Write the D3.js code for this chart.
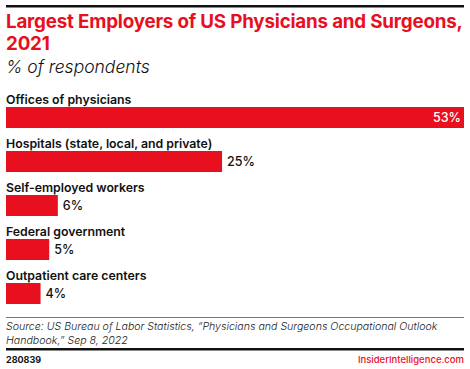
<!DOCTYPE html>
<html>
<head>
<meta charset="utf-8">
<script src="https://cdn.jsdelivr.net/npm/d3@7"></script>
<style>
  body { margin: 0; background: #fff; }
  svg { display: block; font-family: Inter, "Noto Sans", sans-serif; }
</style>
</head>
<body>
<div id="chart"></div>
<script>
// chart data
const categories = ["Offices of physicians", "Hospitals (state, local, and private)", "Self-employed workers", "Federal government", "Outpatient care centers"];
const values = [53, 25, 6, 5, 4];
const valueLabels = ["53%", "25%", "6%", "5%", "4%"];

const width = 470, height = 369;
const red = "#e8101e";
const left = 6, right = 464;

const svg = d3.select("#chart").append("svg")
  .attr("width", width)
  .attr("height", height);

// top rule
svg.append("rect").attr("x", left).attr("y", 5).attr("width", right - left).attr("height", 2.5).attr("fill", "#111");

// title
svg.append("text").attr("x", left).attr("y", 28)
  .attr("font-size", 18.8).attr("font-weight", 700).attr("fill", red)
  .attr("letter-spacing", -0.2)
  .text("Largest Employers of US Physicians and Surgeons,");
svg.append("text").attr("x", left).attr("y", 50)
  .attr("font-size", 18.8).attr("font-weight", 700).attr("fill", red)
  .attr("letter-spacing", -0.2)
  .text("2021");
svg.append("text").attr("x", left).attr("y", 73)
  .attr("font-size", 17.5).attr("font-style", "italic").attr("font-weight", 300).attr("fill", "#111")
  .text("% of respondents");

// scales
const x = d3.scaleLinear().domain([0, d3.max(values)]).range([left, right]);
const y = d3.scaleBand().domain(categories).range([89, 309]).paddingInner(0);
const barH = 21;

const rows = svg.selectAll(".row").data(categories).enter()
  .append("g").attr("class", "row")
  .attr("transform", d => `translate(0,${y(d)})`);

rows.append("text")
  .attr("x", left).attr("y", 15)
  .attr("font-size", 12.3).attr("font-weight", 600).attr("fill", "#111")
  .text(d => d);

rows.append("rect")
  .attr("x", x(0)).attr("y", 18)
  .attr("width", (d, i) => x(values[i]) - x(0))
  .attr("height", barH)
  .attr("fill", red);

rows.append("text")
  .attr("y", 18 + barH / 2 + 4.5)
  .attr("font-size", 12.5).attr("font-weight", 500)
  .attr("x", (d, i) => i === 0 ? x(values[i]) - 3 : x(values[i]) + 5)
  .attr("text-anchor", (d, i) => i === 0 ? "end" : "start")
  .attr("fill", (d, i) => i === 0 ? "#fff" : "#111")
  .text((d, i) => valueLabels[i]);

// source
svg.append("line").attr("x1", left).attr("x2", right).attr("y1", 317.5).attr("y2", 317.5)
  .attr("stroke", "#777").attr("stroke-width", 1);
const src = svg.append("text").attr("font-size", 10.6).attr("font-style", "italic").attr("font-weight", 300).attr("fill", "#222");
src.append("tspan").attr("x", left).attr("y", 330)
  .text("Source: US Bureau of Labor Statistics, \u201cPhysicians and Surgeons Occupational Outlook");
src.append("tspan").attr("x", left).attr("y", 344)
  .text("Handbook,\u201d Sep 8, 2022");

// footer
svg.append("rect").attr("x", left).attr("y", 348).attr("width", right - left).attr("height", 2.5).attr("fill", "#111");
svg.append("text").attr("x", left).attr("y", 363)
  .attr("font-size", 9).attr("font-weight", 700).attr("fill", "#111").text("280839");
svg.append("text").attr("x", right).attr("y", 363).attr("text-anchor", "end")
  .attr("font-size", 9.5).attr("font-weight", 500).attr("fill", red).text("InsiderIntelligence.com");
</script>
</body>
</html>
